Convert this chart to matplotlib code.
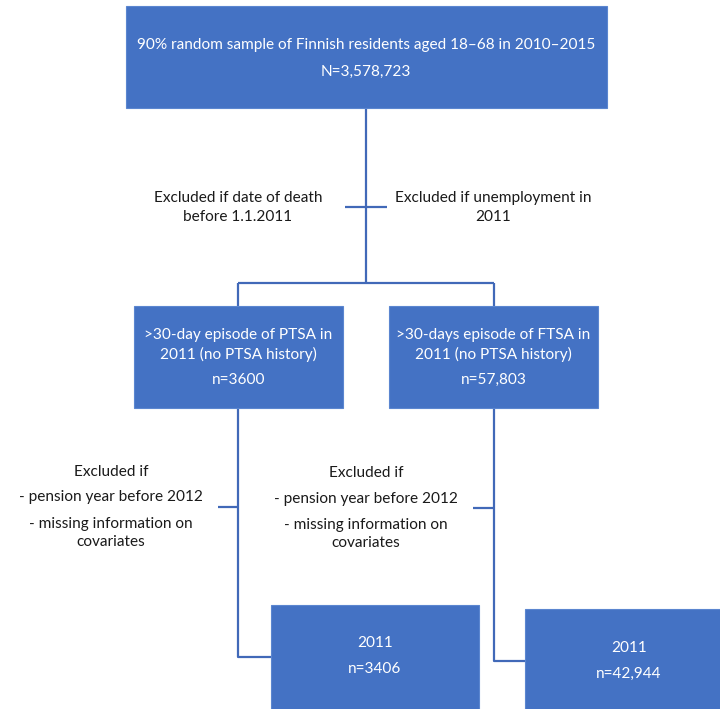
import matplotlib
matplotlib.use("Agg")
import matplotlib.pyplot as plt
from matplotlib.patches import Rectangle

plt.rcParams['font.family'] = ['Lato', 'DejaVu Sans']

# ---- content ----
top_label = "90% random sample of Finnish residents aged 18\u201368 in 2010\u20132015"
top_n = "N=3,578,723"
excl1_left = ["Excluded if date of death", "before 1.1.2011"]
excl1_right = ["Excluded if unemployment in", "2011"]
mid_labels = [">30-day episode of PTSA in\n2011 (no PTSA history)",
              ">30-days episode of FTSA in\n2011 (no PTSA history)"]
mid_n = ["n=3600", "n=57,803"]
excl2 = ["Excluded if", "- pension year before 2012", "- missing information on", "covariates"]
final_year = ["2011", "2011"]
final_n = ["n=3406", "n=42,944"]

BOX = "#4472C4"
LINE = "#4169B8"
TXT = "#1a1a1a"
FS = 11.1

fig = plt.figure(figsize=(7.2, 7.09), dpi=100)
ax = fig.add_axes([0, 0, 1, 1])
ax.set_xlim(0, 720)
ax.set_ylim(709, 0)
ax.axis('off')

def box(x0, y0, x1, y1):
    ax.add_patch(Rectangle((x0, y0), x1 - x0, y1 - y0, facecolor=BOX,
                           edgecolor="#5B86D0", lw=0.8, zorder=2))

def line(xs, ys):
    ax.plot(xs, ys, color=LINE, lw=1.6, solid_capstyle='butt', zorder=1)

# top box
box(126, 6, 607, 108)
ax.text(366, 45, top_label, color='white', fontsize=FS, ha='center', va='center', zorder=3)
ax.text(366, 72, top_n, color='white', fontsize=FS, ha='center', va='center', zorder=3)

# connectors top -> middle
line([366, 366], [108, 283])
line([345, 387], [207, 207])
line([238, 494], [283, 283])
line([238, 238], [283, 306])
line([494, 494], [283, 306])

ax.text(238, 198, excl1_left[0], color=TXT, fontsize=FS, ha='center', va='center')
ax.text(238, 217, excl1_left[1], color=TXT, fontsize=FS, ha='center', va='center')
ax.text(493, 198, excl1_right[0], color=TXT, fontsize=FS, ha='center', va='center')
ax.text(493, 217, excl1_right[1], color=TXT, fontsize=FS, ha='center', va='center')

# middle boxes
mid_x = [(134, 343), (389, 598)]
for (x0, x1), lab, n in zip(mid_x, mid_labels, mid_n):
    box(x0, 306, x1, 408)
    cx = (x0 + x1) / 2
    l1, l2 = lab.split("\n")
    ax.text(cx, 335, l1, color='white', fontsize=FS, ha='center', va='center', zorder=3)
    ax.text(cx, 354, l2, color='white', fontsize=FS, ha='center', va='center', zorder=3)
    ax.text(cx, 380, n, color='white', fontsize=FS, ha='center', va='center', zorder=3)

# connectors middle -> bottom
line([238, 238, 271], [408, 657, 657])
line([218, 238], [507, 507])
line([494, 494, 525], [408, 661, 661])
line([473, 494], [508, 508])

for cx, ys in [(111, [472, 497, 524, 542]), (366, [473, 499, 525, 543])]:
    for txt, y in zip(excl2, ys):
        ax.text(cx, y, txt, color=TXT, fontsize=FS, ha='center', va='center')

# bottom boxes
bottom = [(271, 479, 605, 643, 669), (525, 733, 609, 648, 674)]
for (x0, x1, y0, ty1, ty2), yr, n in zip(bottom, final_year, final_n):
    box(x0, y0, x1, 730)
    cx = (x0 + x1) / 2
    ax.text(cx, ty1, yr, color='white', fontsize=FS, ha='center', va='center', zorder=3)
    ax.text(cx, ty2, n, color='white', fontsize=FS, ha='center', va='center', zorder=3)

fig.savefig("out.png", dpi=100, facecolor='white')
